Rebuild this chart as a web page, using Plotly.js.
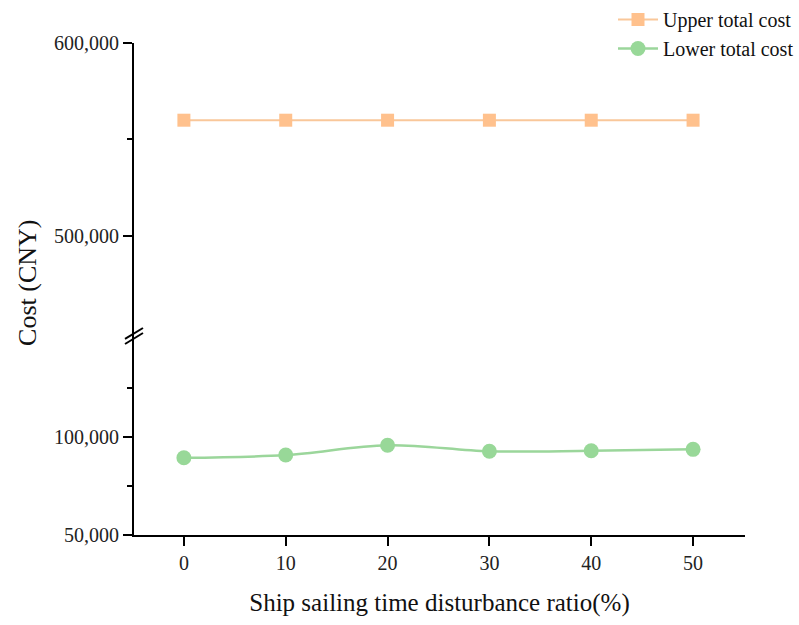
<!DOCTYPE html>
<html>
<head>
<meta charset="utf-8">
<script src="https://cdn.plot.ly/plotly-3.0.1.min.js"></script>
<style>html,body{margin:0;padding:0;background:#fff;}#chart{width:799px;height:625px;}</style>
</head>
<body>
<div id="chart"></div>
<script>
const ratios = [0, 10, 20, 30, 40, 50];
const upperCost = [560000, 560000, 560000, 560000, 560000, 560000];
const lowerCost = [89400, 90800, 95800, 92700, 93000, 93700];
const upperTickVals = [500000, 600000];
const upperTickText = ['500,000', '600,000'];
const lowerTickVals = [50000, 100000];
const lowerTickText = ['50,000', '100,000'];
const xTickVals = [0, 10, 20, 30, 40, 50];

const FONT = 'Liberation Serif, Times New Roman, serif';
const brk = 0.3645;
const yTop = 0.9196;
const xRight = 0.9188;

const traces = [
  {
    x: ratios, y: upperCost, name: 'Upper total cost', type: 'scatter', mode: 'lines+markers',
    xaxis: 'x', yaxis: 'y2',
    line: {color: '#F9C79A', width: 2},
    marker: {symbol: 'square', size: 13, color: '#FFC18D'}
  },
  {
    x: ratios, y: lowerCost, name: 'Lower total cost', type: 'scatter', mode: 'lines+markers',
    xaxis: 'x', yaxis: 'y',
    line: {color: '#9BD69B', width: 2.5, shape: 'spline'},
    marker: {symbol: 'circle', size: 15, color: '#98D898'}
  }
];

const axisCommon = {
  showline: true, linecolor: '#000', linewidth: 2, showgrid: false, zeroline: false,
  ticks: 'outside', ticklen: 9, tickwidth: 2, tickcolor: '#000',
  tickfont: {family: FONT, size: 20, color: '#222'}
};

const layout = {
  width: 799, height: 625,
  margin: {l: 134, r: 0, t: 0, b: 90},
  paper_bgcolor: '#fff', plot_bgcolor: 'rgba(0,0,0,0)',
  showlegend: true,
  legend: {
    x: 1, xanchor: 'right', y: 1, yanchor: 'top',
    font: {family: FONT, size: 20, color: '#111'},
    bgcolor: 'rgba(0,0,0,0)', tracegroupgap: 0, itemwidth: 40
  },
  xaxis: Object.assign({}, axisCommon, {
    domain: [0, xRight],
    range: [-4.9, 55.1], tickmode: 'array', tickvals: xTickVals,
    anchor: 'y',
    title: {text: 'Ship sailing time disturbance ratio(%)', font: {family: FONT, size: 25, color: '#111'}, standoff: 20}
  }),
  yaxis: Object.assign({}, axisCommon, {
    domain: [0, brk], range: [50000, 149500], anchor: 'x',
    tickmode: 'array', tickvals: lowerTickVals, ticktext: lowerTickText,
    minor: {tickmode: 'array', tickvals: [75000, 125000], ticks: 'outside', ticklen: 5, tickwidth: 2, tickcolor: '#000'}
  }),
  yaxis2: Object.assign({}, axisCommon, {
    domain: [brk, yTop], range: [446100, 600000], anchor: 'x',
    tickmode: 'array', tickvals: upperTickVals, ticktext: upperTickText,
    minor: {tickmode: 'array', tickvals: [550000], ticks: 'outside', ticklen: 5, tickwidth: 2, tickcolor: '#000'}
  }),
  annotations: [
    {
      text: 'Cost (CNY)', textangle: -90, xref: 'paper', yref: 'paper',
      x: -0.161, y: 0.471, xanchor: 'center', yanchor: 'middle', showarrow: false,
      font: {family: FONT, size: 26, color: '#111'}
    }
  ],
  shapes: [
    {type: 'line', xref: 'paper', yref: 'paper', x0: -0.015, x1: 0, y0: 0, y1: 0, line: {color: '#000', width: 2}},
    {type: 'line', xref: 'paper', yref: 'paper', x0: -0.0135, x1: 0.0135, y0: 0.357, y1: 0.3776, line: {color: '#000', width: 2}},
    {type: 'line', xref: 'paper', yref: 'paper', x0: -0.0135, x1: 0.0135, y0: 0.3664, y1: 0.3869, line: {color: '#000', width: 2}}
  ]
};

Plotly.newPlot('chart', traces, layout, {displayModeBar: false, staticPlot: true});
</script>
</body>
</html>
